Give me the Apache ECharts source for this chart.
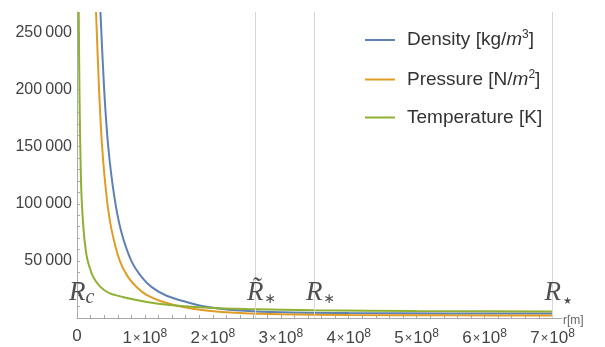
<!DOCTYPE html>
<html>
<head>
<meta charset="utf-8">
<script src="https://cdn.jsdelivr.net/npm/echarts@6/dist/echarts.min.js"></script>
<style>
  html, body { margin: 0; padding: 0; background: #fff; }
  #chart { width: 605px; height: 347px; }
</style>
</head>
<body>
<div id="chart"></div>
<script>
// radius values in units of 1e8 m
const densityR = [0.345, 0.40, 0.46, 0.55, 0.65, 0.80, 0.95, 1.10, 1.32, 1.61, 1.82, 2.05, 2.4, 3.0, 4.0, 5.5, 7.0];
const densityV = [268000, 200000, 150000, 106000, 76000, 50000, 36000, 27000, 19500, 14000, 10800, 8600, 6600, 5000, 4300, 4000, 3900];

const pressureR = [0.28, 0.325, 0.37, 0.44, 0.51, 0.63, 0.75, 0.88, 1.03, 1.27, 1.56, 1.9, 2.4, 3.0, 4.0, 5.5, 7.0];
const pressureV = [268000, 200000, 150000, 104000, 77000, 50000, 36000, 27000, 20000, 14000, 9600, 6500, 4300, 3200, 2600, 2300, 2200];

const tempR = [0.025, 0.04, 0.055, 0.069, 0.10, 0.13, 0.16, 0.235, 0.34, 0.485, 0.735, 1.03, 1.37, 1.8, 2.5, 3.5, 5.0, 7.0];
const tempV = [268000, 180000, 130000, 103500, 75000, 59000, 49500, 36500, 27500, 21500, 17500, 14000, 11400, 9500, 7800, 6800, 6200, 5800];

// radius markers (R_c, R~*, R*, R star)
const markerR = [0, 2.62, 3.49, 7.0];
const markerLabels = ['{r|R}{s|c}', '{r|R\u0303}{st|∗}', '{r|R}{st|∗}', '{r|R}{star|★}'];
const markerY = 22000;

const xTickLabels = [0, 1, 2, 3, 4, 5, 6, 7];
const yTickLabels = [50000, 100000, 150000, 200000, 250000];

const seriesNames = ['Density', 'Pressure', 'Temperature'];
const legendText = {
  Density: 'Density [kg/{i|m}{sup|3}]',
  Pressure: 'Pressure [N/{i|m}{sup|2}]',
  Temperature: 'Temperature [K]'
};

const toPairs = (rs, vs) => rs.map((r, i) => [r * 1e8, vs[i]]);

const xMinorTicks = [];
for (let k = 0; k <= 35; k++) xMinorTicks.push(k * 2e7);
const yMinorTicks = [];
for (let k = 0; k <= 26; k++) yMinorTicks.push(k * 10000);

const chart = echarts.init(document.getElementById('chart'));

const labelFont = 'Liberation Sans, Arial, sans-serif';
const serif = 'Liberation Serif, Times New Roman, serif';

const lineSeries = (name, rs, vs, color) => ({
  name,
  type: 'line',
  data: toPairs(rs, vs),
  showSymbol: false,
  symbol: 'none',
  smooth: 0.3,
  lineStyle: { color, width: 2 },
  itemStyle: { color },
  z: 3
});

const option = {
  animation: false,
  grid: { left: 77, right: 43, top: 12, bottom: 29 },
  xAxis: {
    type: 'value',
    min: 0,
    max: 7.14e8,
    name: 'r[m]',
    nameLocation: 'end',
    nameGap: 1,
    nameTextStyle: { color: '#666', fontSize: 12, fontFamily: labelFont, verticalAlign: 'top', padding: [-3, 0, 0, 0] },
    splitLine: { show: false },
    axisLine: { lineStyle: { color: '#aaa' } },
    axisTick: {
      customValues: xMinorTicks,
      inside: true,
      length: 3,
      lineStyle: { color: '#aaa' }
    },
    axisLabel: {
      customValues: xTickLabels.map(v => v * 1e8),
      margin: 10,
      color: '#444',
      fontFamily: labelFont,
      fontSize: 17,
      formatter: v => {
        const n = Math.round(v / 1e8);
        if (n === 0) return '{b|0}';
        return `{b|${n}}{x|×}{b|10}{sup|8}`;
      },
      rich: {
        b: { fontSize: 17, color: '#444', fontFamily: labelFont },
        x: { fontSize: 13, color: '#444', fontFamily: labelFont, padding: [0, 1, 0, 1] },
        sup: { fontSize: 12, color: '#444', fontFamily: labelFont, verticalAlign: 'top', padding: [0, 0, 8, 0] }
      }
    }
  },
  yAxis: {
    type: 'value',
    min: 0,
    max: 268000,
    splitLine: { show: false },
    axisLine: { lineStyle: { color: '#aaa' } },
    axisTick: {
      customValues: yMinorTicks,
      inside: true,
      length: 3,
      lineStyle: { color: '#aaa' }
    },
    axisLabel: {
      customValues: yTickLabels,
      margin: 5,
      color: '#444',
      fontFamily: labelFont,
      fontSize: 16,
      formatter: v => String(v).replace(/(\d)(\d{3})$/, '$1\u2009$2')
    }
  },
  legend: {
    data: seriesNames,
    orient: 'vertical',
    left: 360,
    top: 24,
    icon: 'rect',
    itemWidth: 30,
    itemHeight: 2,
    itemGap: 19,
    formatter: name => legendText[name],
    textStyle: {
      color: '#333',
      fontSize: 19,
      fontFamily: labelFont,
      padding: [0, 0, 0, 7],
      rich: {
        i: { fontSize: 19, fontStyle: 'italic', color: '#333', fontFamily: labelFont },
        sup: { fontSize: 12, color: '#333', fontFamily: labelFont, verticalAlign: 'top', padding: [0, 0, 10, 0] }
      }
    }
  },
  series: [
    lineSeries('Density', densityR, densityV, '#5E81B5'),
    lineSeries('Pressure', pressureR, pressureV, '#E19C24'),
    lineSeries('Temperature', tempR, tempV, '#8FB032'),
    {
      name: 'markers',
      type: 'scatter',
      symbolSize: 0,
      silent: true,
      z: 5,
      data: markerR.map((r, i) => ({ value: [r * 1e8, markerY], label: { formatter: markerLabels[i] } })),
      label: {
        show: true,
        position: 'inside',
        align: 'left',
        verticalAlign: 'middle',
        offset: [-8, 0],
        rich: {
          r: { fontSize: 27, fontStyle: 'italic', fontFamily: serif, color: '#222' },
          s: { fontSize: 20, fontStyle: 'italic', fontFamily: serif, color: '#222', verticalAlign: 'bottom', padding: [10, 0, 0, 0] },
          st: { fontSize: 14, fontFamily: 'DejaVu Sans, sans-serif', color: '#222', verticalAlign: 'bottom', padding: [12, 0, 0, 1] },
          star: { fontSize: 10, fontFamily: 'DejaVu Sans, sans-serif', color: '#222', verticalAlign: 'bottom', padding: [14, 0, 0, 2] }
        }
      },
      markLine: {
        silent: true,
        symbol: 'none',
        label: { show: false },
        lineStyle: { color: '#d6d6d6', width: 1, type: 'solid' },
        data: markerR.slice(1).map(r => ({ xAxis: r * 1e8 }))
      }
    }
  ]
};

chart.setOption(option);
</script>
</body>
</html>
